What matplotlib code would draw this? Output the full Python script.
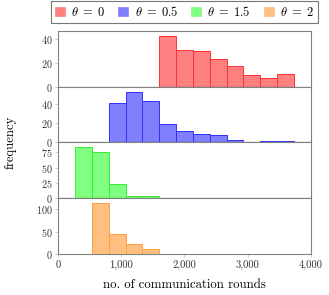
import numpy as np
import matplotlib
matplotlib.use("Agg")
import matplotlib.pyplot as plt
from matplotlib.ticker import FuncFormatter
from matplotlib.patches import Patch

plt.rcParams['font.family'] = 'serif'
plt.rcParams['font.serif'] = ['cmr10', 'DejaVu Serif']
plt.rcParams['mathtext.fontset'] = 'cm'
plt.rcParams['axes.formatter.use_mathtext'] = True
plt.rcParams['axes.unicode_minus'] = False

# histogram bins: 14 bins of width 4000/15 starting at 0
bin_width = 4000 / 15
n_bins = 14

labels = [r'$\theta\;=\;0$', r'$\theta\;=\;0.5$', r'$\theta\;=\;1.5$', r'$\theta\;=\;2$']
counts_theta0 = [0, 0, 0, 0, 0, 0, 43, 31, 30, 23, 17, 10, 7, 11]
counts_theta05 = [0, 0, 0, 41, 53, 43, 19, 12, 9, 8, 2, 0, 1, 1]
counts_theta15 = [0, 83, 76, 23, 4, 3, 1, 0, 0, 0, 0, 0, 0, 0]
counts_theta2 = [0, 0, 113, 44, 22, 11, 0, 1, 0, 0, 0, 0, 0, 0]
series = [counts_theta0, counts_theta05, counts_theta15, counts_theta2]

edge_colors = ['#ff3030', '#3030ff', '#30f030', '#ffa040']
fill_colors = ['#ff8080', '#8080ff', '#80ff80', '#ffbf80']
yticks = [[0, 20, 40], [0, 20, 40], [0, 25, 50, 75], [0, 50, 100]]
xticks = [0, 1000, 2000, 3000, 4000]

W, H = 329, 295
fig = plt.figure(figsize=(W / 100, H / 100), dpi=100)
left = 58.3 / W
right = 310.7 / W
top_px = 30.7
bot_px = 254.0
ph = (bot_px - top_px) / 4

axes = []
for i in range(4):
    y0 = 1 - (top_px + (i + 1) * ph) / H
    ax = fig.add_axes([left, y0, right - left, ph / H])
    axes.append(ax)
    counts = np.array(series[i], dtype=float)
    lefts = np.arange(n_bins) * bin_width
    ax.bar(lefts, counts, width=bin_width, align='edge', color=fill_colors[i],
           edgecolor=edge_colors[i], linewidth=0.7, zorder=3 if i == 3 else 2)
    ax.set_xlim(0, 4000)
    ax.set_ylim(0, max(counts) * 1.1)
    ax.set_yticks(yticks[i])
    ax.set_xticks(xticks)
    for s in ['top', 'right', 'left', 'bottom']:
        ax.spines[s].set_color('#808080')
        ax.spines[s].set_linewidth(0.8)
    if i < 3:
        ax.spines['bottom'].set_color('#222222')
        ax.spines['bottom'].set_zorder(3)
        ax.tick_params(axis='x', labelbottom=False)
    ax.tick_params(axis='both', direction='out', length=2.5, width=0.5,
                   color='#bbbbbb', labelsize=7.6, pad=2, labelcolor='#333333')
    ax.tick_params(axis='y', pad=1.5, labelsize=7.3)

axes[-1].xaxis.set_major_formatter(FuncFormatter(lambda v, p: f"{v:,.0f}"))
axes[-1].set_xlabel('no. of communication rounds', fontsize=9.2, labelpad=6)
fig.text(11 / W, 1 - 142 / H, 'frequency', rotation=90, ha='center', va='center',
         fontsize=9.2)

handles = [Patch(facecolor=fill_colors[i], edgecolor=fill_colors[i], linewidth=0.5)
           for i in range(4)]
leg = fig.legend(handles, labels, ncol=4, loc='upper center',
                 bbox_to_anchor=(184.5 / W, 1 - 0.5 / H), fontsize=9,
                 frameon=True, fancybox=False, edgecolor='#555555',
                 handlelength=0.8, handleheight=0.8, handletextpad=0.5,
                 columnspacing=1.05, borderpad=0.35, borderaxespad=0)
leg.get_frame().set_linewidth(0.8)

fig.savefig('out.png', dpi=100)
